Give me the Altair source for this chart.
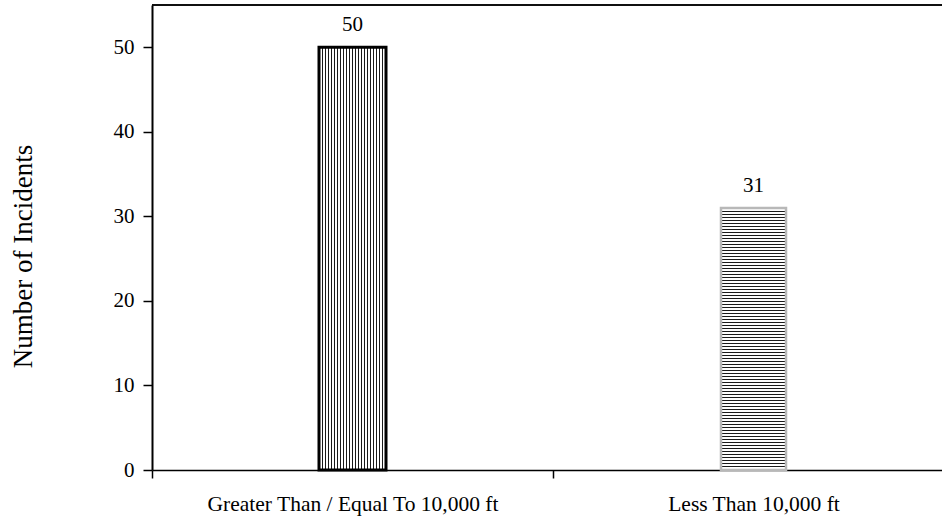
import altair as alt
import pandas as pd

categories = ["Greater Than / Equal To 10,000 ft", "Less Than 10,000 ft"]
incidents = [50, 31]
y_ticks = [0, 10, 20, 30, 40, 50]

df = pd.DataFrame({"category": categories, "incidents": incidents})

FONT = "Liberation Serif"
PLOT_H = 465
Y_MAX = 55
BAR1_W = 67
BAR2_W = 65


def stripes(length_px, vertical, period=3.0, dark_px=1.0, dark="#1a1a1a", light="#ffffff"):
    stops = []
    pos = 0.0
    while pos < length_px:
        a = pos / length_px
        b = min(pos + dark_px, length_px) / length_px
        c = min(pos + period, length_px) / length_px
        stops += [
            alt.GradientStop(offset=round(a, 6), color=dark),
            alt.GradientStop(offset=round(b, 6), color=dark),
            alt.GradientStop(offset=round(b, 6), color=light),
            alt.GradientStop(offset=round(c, 6), color=light),
        ]
        pos += period
    if vertical:
        return alt.LinearGradient(gradient="linear", stops=stops, x1=0, x2=1, y1=0, y2=0)
    return alt.LinearGradient(gradient="linear", stops=stops, x1=0, x2=0, y1=0, y2=1)


x_enc = alt.X(
    "category:N",
    sort=categories,
    scale=alt.Scale(range=[0, 802], paddingInner=0, paddingOuter=0),
    axis=alt.Axis(
        title=None,
        labelAngle=0,
        tickBand="extent",
        labelFont=FONT,
        labelFontSize=21.5,
        labelColor="black",
        labelBaseline="alphabetic",
        labelPadding=32,
        tickSize=8,
        tickColor="black",
        domainColor="black",
        domainWidth=1.6,
        tickWidth=1.5,
        labelLimit=0,
    ),
)
y_enc = alt.Y(
    "incidents:Q",
    scale=alt.Scale(domain=[0, Y_MAX], nice=False),
    axis=alt.Axis(
        values=y_ticks,
        title="Number of Incidents",
        titleFont=FONT,
        titleFontSize=27,
        titleFontWeight="normal",
        titleColor="black",
        titleBaseline="alphabetic",
        titleX=-121,
        titleY=251,
        labelFont=FONT,
        labelFontSize=21,
        labelColor="black",
        labelPadding=9,
        tickSize=9,
        tickColor="black",
        tickWidth=1.5,
        domainColor="black",
        domainWidth=2,
        grid=False,
    ),
)

base = alt.Chart(df)

bar2_h = incidents[1] / Y_MAX * PLOT_H

bar1 = base.transform_filter(alt.datum.category == categories[0]).mark_bar(
    size=BAR1_W, fill=stripes(BAR1_W, True), stroke="black", strokeWidth=3
).encode(x=x_enc, y=y_enc)

bar2 = base.transform_filter(alt.datum.category == categories[1]).mark_bar(
    size=BAR2_W, fill=stripes(bar2_h, False), stroke="#b8b8b8", strokeWidth=2.5
).encode(x=x_enc, y=y_enc)

labels = base.mark_text(
    dy=-16, baseline="alphabetic", font=FONT, fontSize=21, color="black"
).encode(x=x_enc, y=y_enc, text="incidents:Q")

top_rule = alt.Chart(df).mark_rule(color="black", strokeWidth=1.6).encode(
    x=alt.value(0), x2=alt.value(802), y=alt.value(0)
)

chart = (
    alt.layer(top_rule, bar1, bar2, labels)
    .properties(
        width=790,
        height=PLOT_H,
        padding={"left": 152, "top": 5, "right": 0, "bottom": 46},
        autosize=alt.AutoSizeParams(type="none"),
        background="white",
    )
    .configure_view(stroke=None)
)

chart.save("out.html", embed_options={"renderer": "svg", "actions": False})
